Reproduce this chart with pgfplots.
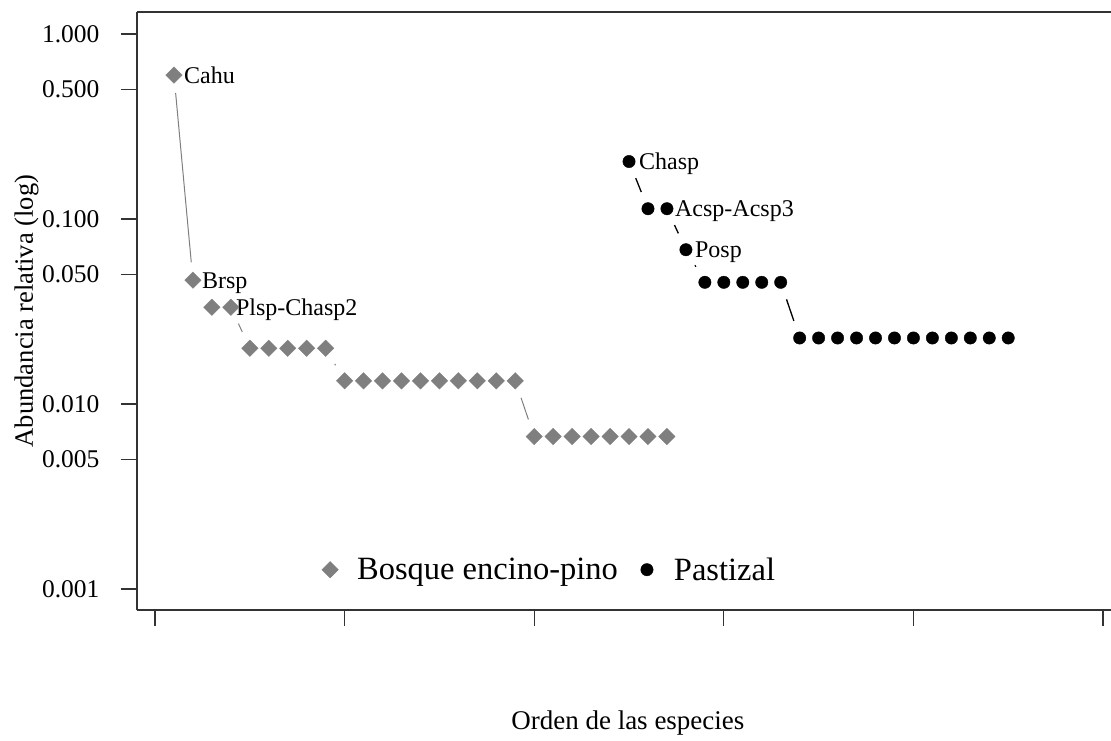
\documentclass[border=0pt]{standalone}
\usepackage{pgfplots}
\pgfplotsset{compat=1.18}
\usepackage{fontspec}
\setmainfont{Liberation Serif}
\definecolor{grisr}{HTML}{7F7F7F}
\definecolor{axgray}{HTML}{333333}
\begin{document}
\begin{tikzpicture}
\useasboundingbox (-137pt,-130pt) rectangle (974pt,610pt);
\begin{axis}[
  at={(0pt,0pt)}, anchor=south west,
  scale only axis, width=974pt, height=598pt,
  ymode=log,
  xmin=-0.95, xmax=50.42,
  ymin=0.000769, ymax=1.315,
  axis x line*=bottom, axis y line*=left,
  axis line style={axgray, line width=1.3pt},
  tick align=outside,
  major tick length=16pt,
  every tick/.style={axgray, line width=1.3pt},
  xtick={0,10,20,30,40,50}, xticklabels={},
  ytick={0.001,0.005,0.01,0.05,0.1,0.5,1},
  yticklabels={0.001,0.005,0.010,0.050,0.100,0.500,1.000},
  yminorticks=false, xminorticks=false,
  yticklabel style={font=\fontsize{25.5}{30}\selectfont, xshift=-18pt},
  xlabel={Orden de las especies},
  xlabel style={at={(axis description cs:0.504,-0.199)}, anchor=base, font=\fontsize{27}{32}\selectfont},
  ylabel={Abundancia relativa (log)},
  ylabel style={at={(axis description cs:-0.1068,0.5)}, anchor=base, rotate=0, font=\fontsize{26.5}{31}\selectfont},
  clip=false,
  legend columns=2,
  legend style={draw=none, fill=none, inner sep=0pt, outer sep=0pt,
    at={(axis cs:8.76,0.00127)}, anchor=west,
    font=\fontsize{32.5}{38}\selectfont,
    /tikz/every even column/.append style={column sep=18pt}},
  legend image code/.code={\path[draw=none,fill=none] (-9pt,0pt) (25pt,0pt); \draw[#1] plot coordinates {(0pt,0pt)};},
  legend cell align=left,
]
% segments (R type "b": gaps around points)
\addplot[forget plot, grisr, line width=1pt, shorten >=18pt, shorten <=18pt] coordinates {(1,0.6) (2,0.04667)};
\addplot[forget plot, grisr, line width=1pt, shorten >=18pt, shorten <=18pt] coordinates {(4,0.03333) (5,0.02)};
\addplot[forget plot, grisr, line width=1pt, shorten >=18pt, shorten <=18pt] coordinates {(9,0.02) (10,0.01333)};
\addplot[forget plot, grisr, line width=1pt, shorten >=18pt, shorten <=18pt] coordinates {(19,0.01333) (20,0.006667)};
\addplot[forget plot, black, line width=1.3pt, shorten >=18pt, shorten <=18pt] coordinates {(25,0.2045) (26,0.1136)};
\addplot[forget plot, black, line width=1.3pt, shorten >=18pt, shorten <=18pt] coordinates {(27,0.1136) (28,0.0682)};
\addplot[forget plot, black, line width=1.3pt, shorten >=18pt, shorten <=18pt] coordinates {(28,0.0682) (29,0.04545)};
\addplot[forget plot, black, line width=1.3pt, shorten >=18pt, shorten <=18pt] coordinates {(33,0.04545) (34,0.02273)};
% Bosque encino-pino
\addplot[only marks, mark=square*, mark size=5.8pt, mark options={rotate=45, fill=grisr, draw=grisr}] coordinates {
(1,0.6) (2,0.04667) (3,0.03333) (4,0.03333)
(5,0.02) (6,0.02) (7,0.02) (8,0.02) (9,0.02)
(10,0.01333) (11,0.01333) (12,0.01333) (13,0.01333) (14,0.01333)
(15,0.01333) (16,0.01333) (17,0.01333) (18,0.01333) (19,0.01333)
(20,0.006667) (21,0.006667) (22,0.006667) (23,0.006667)
(24,0.006667) (25,0.006667) (26,0.006667) (27,0.006667)};
\addlegendentry{Bosque encino-pino}
% Pastizal
\addplot[only marks, mark=*, mark size=6.2pt, mark options={fill=black, draw=black}] coordinates {
(25,0.2045) (26,0.1136) (27,0.1136) (28,0.0682)
(29,0.04545) (30,0.04545) (31,0.04545) (32,0.04545) (33,0.04545)
(34,0.02273) (35,0.02273) (36,0.02273) (37,0.02273) (38,0.02273) (39,0.02273)
(40,0.02273) (41,0.02273) (42,0.02273) (43,0.02273) (44,0.02273) (45,0.02273)};
\addlegendentry{Pastizal}
% top border
\draw[axgray, line width=1.3pt] (rel axis cs:0,1) -- (rel axis cs:1,1);
% species labels
\begin{scope}[every node/.style={anchor=base west, inner sep=0pt, font=\fontsize{24}{28}\selectfont}]
\node at ([xshift=10pt,yshift=-8pt]axis cs:1,0.6) {Cahu};
\node at ([xshift=9pt,yshift=-8pt]axis cs:2,0.04667) {Brsp};
\node at ([xshift=5pt,yshift=-8pt]axis cs:4,0.03333) {Plsp-Chasp2};
\node at ([xshift=10pt,yshift=-8pt]axis cs:25,0.2045) {Chasp};
\node at ([xshift=8pt,yshift=-8pt]axis cs:27,0.1136) {Acsp-Acsp3};
\node at ([xshift=9pt,yshift=-8pt]axis cs:28,0.0682) {Posp};
\end{scope}
\end{axis}
\end{tikzpicture}
\end{document}
